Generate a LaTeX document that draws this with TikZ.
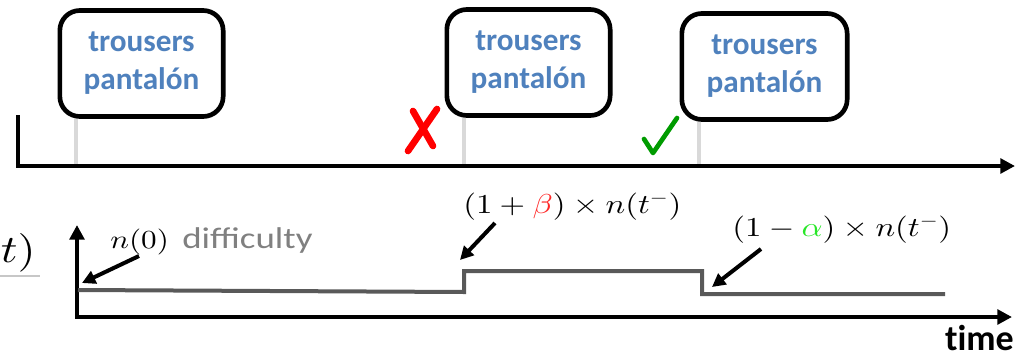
\documentclass[tikz,border=0pt]{standalone}
\usepackage{fontspec}
\newfontfamily\carlito{Carlito}
\DeclareFontShape{OT1}{cmr}{m}{n}{<->cmr10}{}
\DeclareFontShape{OML}{cmm}{m}{it}{<->cmmi10}{}
\DeclareFontShape{OMS}{cmsy}{m}{n}{<->cmsy10}{}
\DeclareFontShape{OMX}{cmex}{m}{n}{<->cmex10}{}
\usetikzlibrary{arrows.meta}
\definecolor{bluetext}{RGB}{79,129,189}
\definecolor{stemgray}{RGB}{217,217,217}
\definecolor{stepgray}{RGB}{89,89,89}
\definecolor{diffgray}{RGB}{128,128,128}
\definecolor{xred}{RGB}{255,0,0}
\definecolor{betared}{RGB}{255,40,40}
\definecolor{checkgreen}{RGB}{0,155,0}
\definecolor{alphagreen}{RGB}{40,230,40}
\tikzset{
  wordbox/.style={draw=black, line width=3.5pt, rounded corners=15pt, fill=white,
    minimum width=122.5pt, minimum height=79.5pt, align=center, inner sep=0pt,
    text=bluetext, font=\carlito\bfseries\fontsize{23.4}{28.5}\selectfont},
  stemline/.style={draw=stemgray, line width=3.5pt},
  axisline/.style={draw=black, line width=3pt, line join=miter},
  stepline/.style={draw=stepgray, line width=3pt, line join=miter},
  pointer/.style={draw=black, line width=3pt, -{Triangle[length=10pt,width=10pt]}},
  mathlabel/.style={inner sep=0pt, anchor=base west, xscale=1.2},
}
\begin{document}
\begin{tikzpicture}[x=0.75pt, y=-0.75pt]
\useasboundingbox (0,0) rectangle (1022,358);

% ---------- top timeline ----------
\coordinate (s1) at (76,166);
\coordinate (s2) at (464,166);
\coordinate (s3) at (699,166);
\node[wordbox] (b1) at (141.5,63.5) {trousers\\pantalón};
\node[wordbox] (b2) at (528.5,62.5) {trousers\\pantalón};
\node[wordbox, minimum width=124pt] (b3) at (764.5,66.5) {trousers\\pantalón};
\draw[stemline] (s1) -- (s1 |- b1.south);
\draw[stemline] (s2) -- (s2 |- b2.south);
\draw[stemline] (s3) -- (s3 |- b3.south);

\coordinate (t0top) at (18,115);
\coordinate (t0) at (18,166);
\coordinate (tend) at (1015,166);
\draw[axisline, -{Triangle[length=11pt,width=11pt]}] (t0top) -- (t0) -- (tend);

% red cross
\draw[xred, line width=5pt, line cap=round] (413,111) -- (433,146);
\draw[xred, line width=5pt, line cap=round] (437,109) -- (408,151);
% green check
\draw[checkgreen, line width=3.5pt, line cap=round, line join=round]
  (644,139) -- (653,153) -- (677,118);

% ---------- bottom plot ----------
\begin{scope}
\clip (0,0) rectangle (1022,358);
\node[inner sep=0pt, anchor=base east, xscale=1.2, font=\fontsize{29}{34}\selectfont] (nt) at (36,262) {$n(t)$};
\end{scope}
\coordinate (rl) at (0,276);
\coordinate (rr) at (40,276);
\draw[stemgray!80!gray, line width=0.8pt] (rl) -- (rr);

\coordinate (ytip) at (77,225);
\coordinate (o2) at (77,317);
\coordinate (xtip) at (1012,317);
\draw[axisline, {Triangle[length=11pt,width=11pt]}-{Triangle[length=11pt,width=11pt]}] (ytip) -- (o2) -- (xtip);

\coordinate (p0) at (78,290);
\coordinate (p1) at (464,292);
\coordinate (p2) at (464,271);
\coordinate (p3) at (702,271);
\coordinate (p4) at (702,294);
\coordinate (p5) at (945,294);
\draw[stepline] (p0) -- (p1) -- (p2) -- (p3) -- (p4) -- (p5);

\node[mathlabel, font=\fontsize{19.5}{23}\selectfont] (n0) at (110,248) {$n(0)$};
\node[inner sep=0pt, anchor=base west, xscale=1.23, text=diffgray,
  font=\carlito\fontsize{22.5}{27}\selectfont] (diff) at (182,248) {difficulty};
\node[mathlabel, font=\fontsize{20.5}{25}\selectfont] (lbeta) at (463,213)
  {$(1+\textcolor{betared}{\beta})\times n(t^{-})$};
\node[mathlabel, font=\fontsize{20.5}{25}\selectfont] (lalpha) at (732,236)
  {$(1-\textcolor{alphagreen}{\alpha})\times n(t^{-})$};
\node[inner sep=0pt, anchor=base east, font=\carlito\bfseries\fontsize{27}{32}\selectfont] (time) at (1014,350) {t\kern0pt ime};

\coordinate (a0s) at (139,256);
\coordinate (a0e) at (82,283);
\coordinate (a1s) at (495,223);
\coordinate (a1e) at (460,260);
\coordinate (a2s) at (761,249);
\coordinate (a2e) at (712,287);
\draw[pointer] (a0s) -- (a0e);
\draw[pointer] (a1s) -- (a1e);
\draw[pointer] (a2s) -- (a2e);
\end{tikzpicture}
\end{document}
